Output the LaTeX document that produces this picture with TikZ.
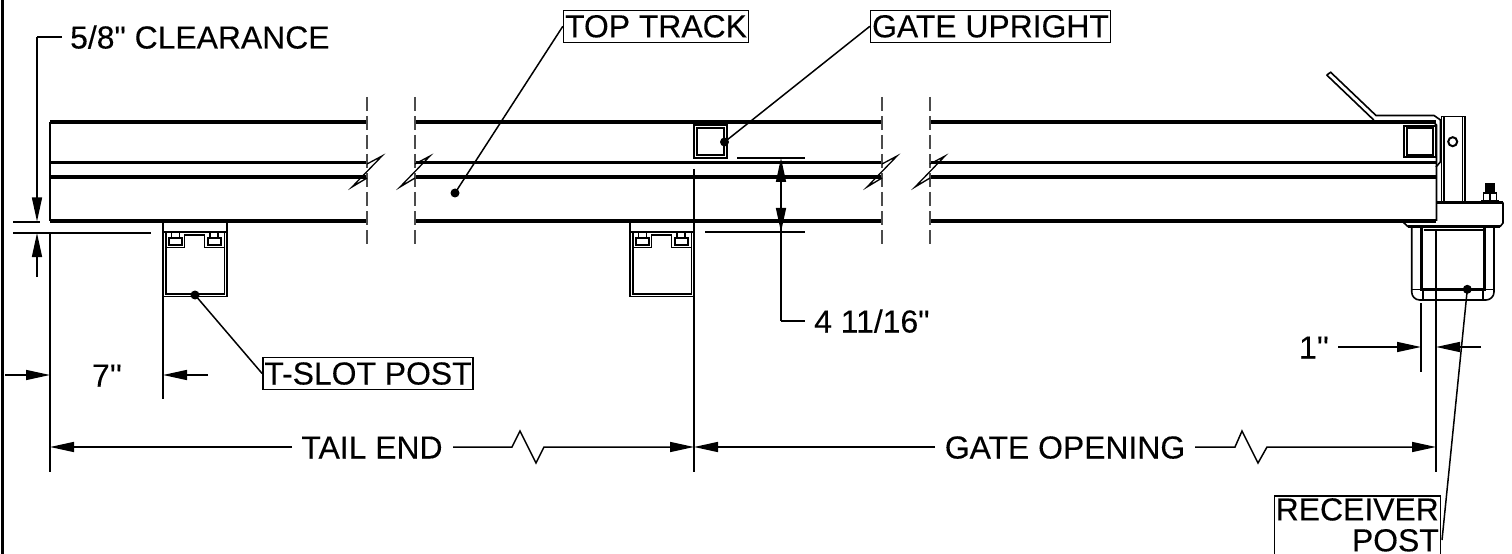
\documentclass[tikz,border=0pt]{standalone}
\usepackage{fontspec}
\newfontfamily\dimfont[FakeBold=0.2]{Liberation Sans}
\usetikzlibrary{arrows.meta}
\begin{document}
\begin{tikzpicture}[x=1bp,y=-1bp]
    \tikzstyle{thin part}=[line width=1.6bp]
    \tikzstyle{heavy part}=[line width=3.4bp]
    \tikzstyle{break line}=[line width=1.6bp,black!70,dash pattern=on 14bp off 5bp]
    \tikzset{
    dim text/.style={font=\dimfont\fontsize{32}{32}\selectfont,text height=23bp,text depth=0bp,inner sep=0},
    label box/.style={draw,line width=1.5bp,font=\dimfont\fontsize{32}{32}\selectfont,text height=24bp,text depth=2bp,inner xsep=1.5bp,inner ysep=3bp},
    leader dot/.style={circle,fill=black,inner sep=0,minimum size=9bp},
    dim arrow/.style={line width=1.5bp,-{Triangle[length=24bp,width=10bp]}},
    dim plain/.style={line width=1.5bp}
    }
    \useasboundingbox (0,0) rectangle (1512,554);
    \draw[line width=3bp] (2.5,0) -- (2.5,554);
    \draw[thin part] (50,122) -- (50,221);
    \foreach \xa/\xb in {50/367,415/882,930/1436}{
    \foreach \ya in {122,162.5,177,221}{
    \draw[heavy part] (\xa,\ya) -- (\xb,\ya);
    }
    }
    \foreach \xa in {367,415,882,930}{
    \draw[break line] (\xa,97) -- (\xa,247);
    }
    \foreach \xa in {367,415,882,930}{
    \draw[line width=1.3bp] (\xa,164) -- ++(15,-8) -- ++(-30,31) -- ++(15,-9);
    }
    \foreach \xo in {0,467}{
    \begin{scope}[xshift=\xo bp]
    \draw[thin part] (163,222) -- (163,296.5) -- (227,296.5) -- (227,222);
    \draw[thin part] (163,232) -- (227,232);
    \draw[thin part] (165.7,247.5) -- (165.7,293.7) -- (224.3,293.7) -- (224.3,247.5) -- (204.5,247.5) -- (204.5,235) -- (184.5,235) -- (184.5,247.5) -- cycle;
    \draw[thin part] (165.7,232) -- (165.7,247.5) (224.3,232) -- (224.3,247.5);
    \foreach \xb in {169,207.5}{
    \draw[line width=2bp] (\xb,238.5) rectangle ++(13,7);
    \draw[line width=1.5bp] (\xb+2.5,232) rectangle ++(8,6.5);
    }
    \end{scope}
    }
    \draw[line width=2bp] (694,125) rectangle (727,158);
    \draw[line width=2bp] (697,128) rectangle (724,155);
    \draw[line width=2bp] (1404,125.7) rectangle (1435.7,157.3);
    \draw[line width=2bp] (1407,128.3) rectangle (1433,155);
    \draw[thin part] (1326.7,75) -- (1373,119.3) -- (1375,122);
    \draw[thin part] (1326.7,75) -- (1330.7,72.3) -- (1376,115.5) -- (1434,115.5) -- (1440.5,120) -- (1440.5,161.7) -- (1436,167);
    \draw[thin part] (1433,122) -- (1436.5,125) -- (1436.5,221);
    \foreach \xa in {1441.5,1443.8,1462.5,1465}{
    \draw[thin part] (\xa,116.5) -- (\xa,202);
    }
    \draw[thin part] (1441.5,116.5) -- (1465,116.5);
    \node[circle,draw,line width=2bp,inner sep=0,minimum size=9bp] (pinHole) at (1452.7,141.7) {};
    \draw[line width=2.6bp] (1436.5,202.5) -- (1503,202.5);
    \draw[thin part] (1503,202.5) -- (1503,223) -- (1500,226.7);
    \draw[line width=2.6bp] (1500,226.7) -- (1408,226.7);
    \draw[thin part] (1408,226.7) -- (1403,222);
    \fill (1485,182.7) rectangle (1495,193.3);
    \draw[line width=1.8bp] (1483.5,193.3) rectangle (1496.5,200.7);
    \draw[line width=1.8bp] (1490,193.3) -- (1490,200.7);
    \fill (1480.7,200.5) rectangle (1499.3,202.5);
    \draw[thin part] (1411.7,227) -- (1411.7,292) arc[start angle=180,end angle=90,radius=8] -- (1486,300) arc[start angle=90,end angle=0,radius=8] -- (1494,227);
    \draw[thin part] (1411.7,289.3) -- (1494,289.3);
    \draw[line width=3bp] (1421.5,228) -- (1421.5,289.5) -- (1484.5,289.5) -- (1484.5,228);
    \draw[thin part] (1423.5,229.8) -- (1482.7,229.8);
    \draw[thin part] (1423,289) -- (1423,300) (1483,289) -- (1483,300);
    \draw[dim plain] (13,222) -- (40,222);
    \draw[dim plain] (13,233) -- (151,233);
    \draw[dim plain] (50,233) -- (50,472);
    \draw[dim plain] (163,297) -- (163,399);
    \draw[dim plain] (694,169) -- (694,472);
    \draw[dim plain] (1436,231) -- (1436,472);
    \draw[dim plain] (1421,303) -- (1421,372);
    \draw[dim plain] (737,158) -- (805,158);
    \draw[dim plain] (705,232) -- (805,232);
    \node[dim text,anchor=west] (txtClear) at (70,37) {5/8" CLEARANCE};
    \node[dim text,anchor=west] (txtRise) at (814,321) {4 11/16"};
    \node[dim text] (txtSeven) at (107,375) {7''};
    \node[dim text] (txtOne) at (1314,347) {1''};
    \node[dim text] (txtTail) at (372,447) {TAIL END};
    \node[dim text] (txtGate) at (1065,447) {GATE OPENING};
    \coordinate (tailLeft) at (50,447);
    \coordinate (tailRight) at (694,447);
    \coordinate (gateRight) at (1436,447);
    \draw[dim arrow] (37,37) -- (37,221.5);
    \draw[dim plain] (txtClear.west)+(-8,0) -- (37,37);
    \draw[dim arrow] (37,277) -- (37,233);
    \draw[dim arrow] (781,321) -- (781,158);
    \draw[dim arrow] (781,180) -- (781,232);
    \draw[dim plain] (781,321) -- (805,321);
    \draw[dim arrow] (5,375) -- (50,375);
    \draw[dim arrow] (208,375) -- (163,375);
    \draw[dim arrow] (1338,347) -- (1421,347);
    \draw[dim arrow] (1481,347) -- (1436,347);
    \draw[dim arrow] (292,447) -- (tailLeft);
    \draw[dim arrow] (453,447) -- (512,447) -- (520,431) -- (536,463) -- (544,447) -- (tailRight);
    \draw[dim arrow] (935,447) -- (tailRight);
    \draw[dim arrow] (1195,447) -- (1235,447) -- (1242,431) -- (1258,463) -- (1267,447) -- (gateRight);
    \node[label box] (boxTrack) at (656,26.3) {TOP TRACK};
    \node[label box] (boxGate) at (990.5,26.3) {GATE UPRIGHT};
    \node[label box] (boxPost) at (368,373.5) {T-SLOT POST};
    \node[draw,line width=1.5bp,font=\dimfont\fontsize{32}{31}\selectfont,align=right,anchor=north east,inner xsep=1.5bp,inner ysep=0,minimum width=164bp,minimum height=60bp] (boxRecv) at (1441,495) {\raisebox{2bp}{RECEIVER}\\\raisebox{2bp}{POST}};
    \node[leader dot] (dotTrack) at (455,193) {};
    \node[leader dot] (dotGate) at (724.5,142) {};
    \node[leader dot] (dotPost) at (195,295) {};
    \node[leader dot] (dotRecv) at (1467.3,289.3) {};
    \coordinate (recvEnd) at (1442,540);
    \draw[dim plain] (dotTrack.center) -- (boxTrack.west);
    \draw[dim plain] (dotGate.center) -- (boxGate.west);
    \draw[dim plain] (dotPost.center) -- (boxPost.west);
    \draw[dim plain] (dotRecv.center) -- (recvEnd);
\end{tikzpicture}
\end{document}
